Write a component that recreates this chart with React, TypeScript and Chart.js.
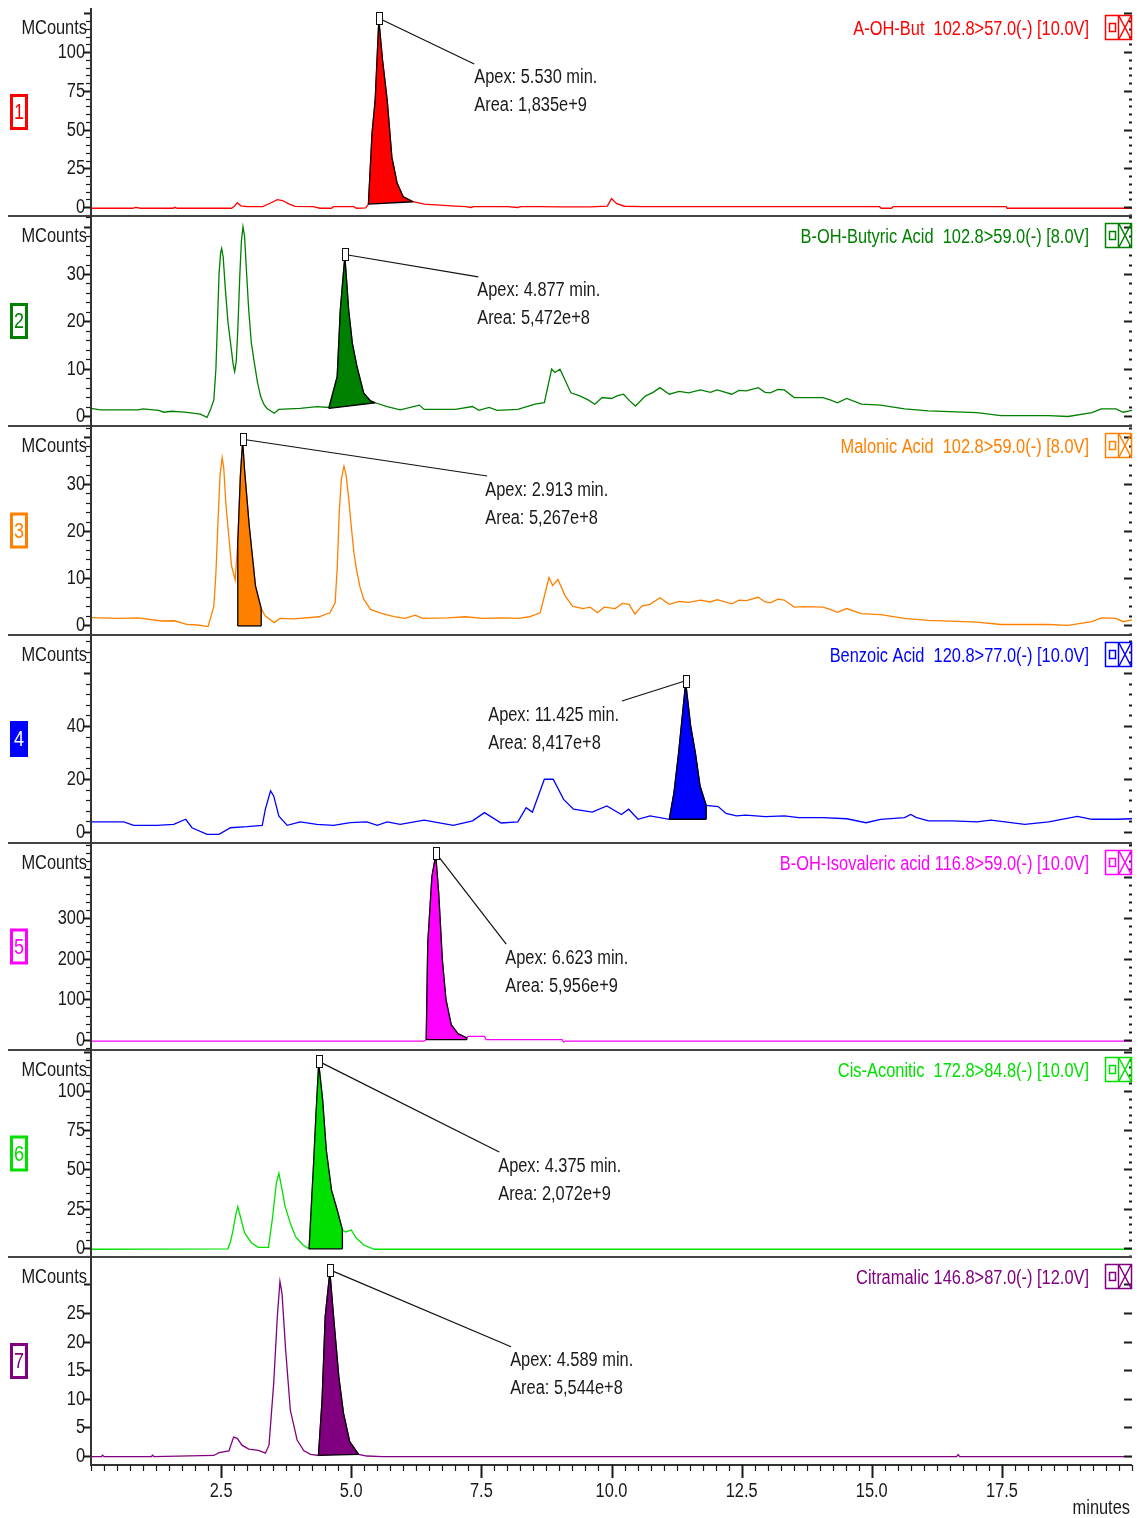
import { useEffect, useRef } from "react";
import { Chart, registerables } from "chart.js";

Chart.register(...registerables);

// ---------------- data (time in minutes, MCounts) ----------------
const p1Trace: [number, number][] = [
  [0, -0.8], [0.8, -0.8], [0.86, -0.2], [0.95, -0.8], [1.58, -0.8], [1.61, -0.2], [1.66, -0.8], [2.7, -0.8],
  [2.76, 0.6], [2.81, 2.8], [2.88, 0.8], [3.0, 0.2], [3.3, 0.3], [3.45, 2.6], [3.58, 4.8], [3.68, 4.2],
  [3.8, 2.0], [3.92, 0.4], [4.27, 0.2], [4.4, -0.8], [4.62, -0.8], [4.66, 0.2], [5.05, 0.2], [5.1, -0.8],
  [5.28, -0.6], [5.33, 1.9], [5.4, 47.7], [5.46, 69], [5.53, 120.5], [5.6, 95], [5.69, 69], [5.78, 32],
  [5.88, 15.5], [6.0, 6.5], [6.19, 3.4], [6.4, 1.8], [6.7, 1.2], [7.0, 0.6], [7.2, 0.3], [7.3, -0.3],
  [7.35, 0.3], [7.7, 0.2], [8.0, 0.2], [8.2, -0.3], [8.25, 0.3], [8.6, 0.2], [9.0, 0.1], [9.6, 0.1],
  [9.92, 0.6], [10.0, 5.4], [10.1, 2.2], [10.25, 0.5], [10.6, 0.3], [11.5, 0.2], [13.0, 0.2], [15.15, 0.2],
  [15.18, -0.8], [15.38, -0.8], [15.41, 0.2], [17.58, 0.2], [17.6, -0.8], [20, -0.8],
];
const p1Peak: [number, number][] = [
  [5.33, 1.9], [5.4, 47.7], [5.46, 69], [5.53, 120.5], [5.6, 95], [5.69, 69], [5.78, 32], [5.88, 15.5],
  [6.0, 6.5], [6.19, 3.4],
];

const p2Trace: [number, number][] = [
  [0, 1.6], [0.18, 1.3], [0.9, 1.3], [1.0, 1.5], [1.3, 1.2], [1.4, 0.8], [1.55, 1.0], [1.8, 0.8],
  [2.1, 0.4], [2.23, -0.3], [2.3, 1.5], [2.36, 3.4], [2.4, 10], [2.43, 20], [2.46, 30], [2.49, 34.5],
  [2.51, 35.4], [2.54, 33.5], [2.58, 27], [2.63, 20], [2.68, 15.5], [2.73, 11], [2.76, 9.4], [2.79, 11.5],
  [2.82, 18], [2.86, 30], [2.89, 37], [2.92, 40.0], [2.95, 38], [2.99, 30], [3.03, 22.4], [3.08, 15.5],
  [3.13, 11.8], [3.2, 7], [3.26, 4.1], [3.32, 2.5], [3.38, 1.6], [3.52, 0.6], [3.61, 1.4], [4.02, 1.6],
  [4.34, 2.0], [4.57, 1.8], [4.73, 8.3], [4.79, 22.4], [4.877, 33.7], [4.95, 22.4], [5.02, 15.4],
  [5.11, 10.4], [5.24, 4.8], [5.37, 3.2], [5.46, 2.8], [5.69, 2.0], [5.94, 1.3], [6.31, 2.3], [6.4, 1.4],
  [7.0, 1.4], [7.33, 2.0], [7.45, 1.2], [7.65, 1.8], [7.8, 1.2], [8.2, 1.4], [8.53, 2.5], [8.71, 2.8],
  [8.85, 9.9], [8.91, 9.2], [9.01, 9.9], [9.22, 4.9], [9.4, 4.2], [9.55, 3.4], [9.68, 2.5], [9.82, 3.9],
  [10.0, 3.7], [10.12, 4.3], [10.23, 4.6], [10.35, 3.2], [10.46, 2.1], [10.65, 4.2], [10.8, 5.0],
  [10.93, 6.0], [11.11, 4.6], [11.3, 5.2], [11.48, 4.9], [11.71, 5.5], [11.9, 5.0], [12.03, 5.5],
  [12.31, 4.6], [12.45, 5.4], [12.59, 5.3], [12.82, 6.0], [12.95, 5.0], [13.05, 4.9], [13.2, 5.6],
  [13.32, 5.5], [13.51, 3.9], [13.69, 3.9], [14.06, 3.9], [14.2, 3.4], [14.34, 2.8], [14.52, 3.7],
  [14.8, 2.5], [15.17, 2.3], [15.63, 1.5], [16.09, 1.1], [17.02, 0.7], [17.48, 0.1], [18.4, 0.1],
  [18.77, -0.1], [19.23, 0.7], [19.41, 1.5], [19.69, 1.5], [19.83, 0.8], [20, 1.2],
];
const p2Peak: [number, number][] = [
  [4.57, 1.6], [4.73, 8.3], [4.79, 22.4], [4.877, 33.7], [4.95, 22.4], [5.02, 15.4], [5.11, 10.4],
  [5.24, 4.8], [5.37, 3.2], [5.46, 2.8],
];

const p3Trace: [number, number][] = [
  [0, 1.55], [0.5, 1.4], [0.9, 1.5], [1.36, 0.85], [1.6, 0.9], [1.84, 0.15], [2.05, 0.0], [2.25, -0.35],
  [2.36, 4.0], [2.4, 11], [2.44, 22], [2.48, 32], [2.52, 35.6], [2.55, 33.5], [2.59, 26], [2.63, 21],
  [2.7, 12.6], [2.77, 9.6], [2.82, 17.5], [2.87, 31.7], [2.913, 39.1], [2.95, 33], [3.04, 21.1],
  [3.16, 8.3], [3.27, 3.5], [3.35, 1.9], [3.52, 0.5], [3.63, 1.4], [3.9, 1.3], [4.38, 1.75], [4.59, 2.6],
  [4.69, 4.7], [4.73, 12], [4.77, 24], [4.81, 31], [4.86, 33.8], [4.9, 32], [4.95, 27], [5.0, 21],
  [5.05, 15.5], [5.1, 11.8], [5.17, 8], [5.24, 5.5], [5.37, 3.3], [5.55, 2.6], [5.82, 1.8], [6.03, 1.4],
  [6.23, 2.1], [6.37, 1.4], [6.85, 1.5], [7.19, 1.75], [7.53, 1.4], [7.88, 1.5], [8.22, 1.4], [8.42, 1.75],
  [8.63, 2.6], [8.8, 10.1], [8.87, 8.4], [8.97, 9.7], [9.11, 6.2], [9.25, 4.0], [9.45, 3.5], [9.59, 3.8],
  [9.73, 2.6], [9.86, 3.8], [10.07, 3.5], [10.21, 4.6], [10.34, 4.4], [10.45, 2.3], [10.58, 4.0],
  [10.74, 4.4], [10.93, 5.8], [11.11, 4.4], [11.3, 5.0], [11.48, 4.8], [11.71, 5.3], [11.9, 4.9],
  [12.03, 5.4], [12.31, 4.5], [12.45, 5.3], [12.59, 5.2], [12.82, 5.9], [12.95, 4.9], [13.05, 4.7],
  [13.2, 5.5], [13.32, 5.3], [13.51, 3.8], [13.69, 3.9], [14.06, 3.8], [14.2, 3.3], [14.34, 2.7],
  [14.52, 3.5], [14.8, 2.4], [15.17, 2.2], [15.63, 1.4], [16.09, 1.0], [17.02, 0.6], [17.48, 0.1],
  [18.4, 0.1], [18.77, -0.1], [19.23, 0.7], [19.41, 1.5], [19.69, 1.4], [19.83, 0.7], [20, 1.1],
];
const p3Peak: [number, number][] = [
  [2.82, -0.2], [2.82, 17.5], [2.87, 31.7], [2.913, 39.1], [2.95, 33], [3.04, 21.1], [3.16, 8.3],
  [3.27, 3.5], [3.27, -0.2],
];

const p4Trace: [number, number][] = [
  [0, 3.8], [0.63, 3.8], [0.82, 2.5], [1.27, 2.5], [1.59, 2.9], [1.82, 4.8], [1.94, 1.6], [2.23, -0.9],
  [2.46, -0.9], [2.68, 1.6], [3.0, 2.0], [3.29, 2.5], [3.35, 8.6], [3.45, 15.5], [3.51, 13.6], [3.61, 6.0],
  [3.77, 2.5], [4.02, 3.8], [4.34, 2.9], [4.66, 2.5], [4.98, 3.5], [5.3, 3.8], [5.5, 2.5], [5.69, 3.8],
  [5.94, 2.9], [6.4, 4.5], [6.96, 2.5], [7.33, 4.2], [7.56, 7.3], [7.88, 3.4], [8.2, 3.8], [8.36, 9.2],
  [8.48, 7.5], [8.71, 19.9], [8.88, 19.9], [9.08, 12.3], [9.27, 8.6], [9.63, 7.5], [9.91, 9.8],
  [10.19, 6.6], [10.33, 8.6], [10.51, 4.8], [10.74, 6.1], [11.11, 4.8], [11.2, 14.8], [11.29, 29.9],
  [11.425, 56.3], [11.52, 40], [11.61, 29.9], [11.7, 17.4], [11.82, 10.0], [12.05, 9.6], [12.2, 7.0],
  [12.4, 6.1], [12.58, 6.4], [12.96, 5.8], [13.32, 6.1], [13.6, 5.4], [14.06, 5.4], [14.52, 5.0],
  [14.89, 3.5], [15.17, 4.8], [15.63, 5.4], [15.75, 6.6], [15.85, 5.5], [16.09, 4.2], [16.55, 4.2],
  [17.02, 3.8], [17.29, 4.5], [17.94, 2.9], [18.4, 3.8], [18.95, 5.9], [19.23, 4.8], [19.69, 4.8], [20, 5.0],
];
const p4Peak: [number, number][] = [
  [11.11, 4.8], [11.2, 14.8], [11.29, 29.9], [11.425, 56.3], [11.52, 40], [11.61, 29.9], [11.7, 17.4],
  [11.82, 10.0], [11.82, 4.8],
];

const p5Trace: [number, number][] = [
  [0, -3], [6.4, -3], [6.44, 0.8], [6.47, 238], [6.55, 402], [6.623, 455], [6.68, 361], [6.75, 197],
  [6.82, 99], [6.92, 37.6], [7.05, 15.6], [7.22, 4.9], [7.24, 9], [7.56, 9], [7.59, 0.8], [9.05, 0.8],
  [9.08, -5], [9.12, -3], [20, -3],
];
const p5Peak: [number, number][] = [
  [6.44, 0.8], [6.47, 238], [6.55, 402], [6.623, 455], [6.68, 361], [6.75, 197], [6.82, 99], [6.92, 37.6],
  [7.05, 15.6], [7.22, 4.9], [7.22, 0.8],
];

const p6Trace: [number, number][] = [
  [0, -0.8], [2.63, -0.5], [2.68, 4], [2.73, 11.5], [2.78, 21], [2.82, 26.3], [2.87, 19.9], [2.95, 9.8],
  [3.08, 3.4], [3.21, 0.4], [3.41, 0.4], [3.49, 19.9], [3.56, 41.2], [3.61, 47.6], [3.66, 39], [3.73, 26.3],
  [3.83, 15.7], [3.93, 7.2], [4.07, 1.9], [4.19, -0.5], [4.28, 56], [4.32, 83.6], [4.375, 117.6],
  [4.45, 94.3], [4.52, 62.4], [4.62, 36.9], [4.73, 24.2], [4.83, 11.5], [4.89, 10.2], [5.0, 11.5],
  [5.1, 6.2], [5.24, 1.9], [5.44, -0.8], [20, -0.8],
];
const p6Peak: [number, number][] = [
  [4.19, -0.5], [4.28, 56], [4.32, 83.6], [4.375, 117.6], [4.45, 94.3], [4.52, 62.4], [4.62, 36.9],
  [4.73, 24.2], [4.83, 11.5], [4.83, -0.5],
];

const p7Trace: [number, number][] = [
  [0, -0.1], [0.2, -0.1], [0.22, 0.15], [0.25, -0.1], [1.16, -0.1], [1.18, 0.15], [1.21, -0.1], [2.36, 0.1],
  [2.46, 0.6], [2.65, 0.9], [2.74, 3.3], [2.81, 3.1], [2.9, 1.9], [3.03, 1.2], [3.22, 1.0], [3.35, 0.5],
  [3.42, 1.9], [3.51, 12.7], [3.58, 24.4], [3.63, 30.5], [3.67, 28.4], [3.74, 18.5], [3.83, 8.0],
  [3.96, 2.8], [4.09, 0.9], [4.22, 0.3], [4.37, 0.1], [4.44, 9.8], [4.5, 24.4], [4.589, 32.2], [4.66, 24.4],
  [4.76, 13.9], [4.85, 7.5], [4.97, 2.5], [5.14, 0.3], [5.3, 0.0], [5.6, -0.1], [16.63, -0.1],
  [16.66, 0.25], [16.69, -0.1], [20, -0.1],
];
const p7Peak: [number, number][] = [
  [4.37, 0.1], [4.44, 9.8], [4.5, 24.4], [4.589, 32.2], [4.66, 24.4], [4.76, 13.9], [4.85, 7.5],
  [4.97, 2.5], [5.14, 0.3],
];

const traces = [p1Trace, p2Trace, p3Trace, p4Trace, p5Trace, p6Trace, p7Trace];
const peaks = [p1Peak, p2Peak, p3Peak, p4Peak, p5Peak, p6Peak, p7Peak];

const panelTitles = [
  "A-OH-But  102.8>57.0(-) [10.0V]",
  "B-OH-Butyric Acid  102.8>59.0(-) [8.0V]",
  "Malonic Acid  102.8>59.0(-) [8.0V]",
  "Benzoic Acid  120.8>77.0(-) [10.0V]",
  "B-OH-Isovaleric acid 116.8>59.0(-) [10.0V]",
  "Cis-Aconitic  172.8>84.8(-) [10.0V]",
  "Citramalic 146.8>87.0(-) [12.0V]",
];
const panelColors = ["#ff0000", "#008000", "#ff8000", "#0000ff", "#ff00ff", "#00e000", "#800080"];
const apexTimes = [5.53, 4.877, 2.913, 11.425, 6.623, 4.375, 4.589];
const apexLabels = ["5.530", "4.877", "2.913", "11.425", "6.623", "4.375", "4.589"];
const peakAreas = ["1,835e+9", "5,472e+8", "5,267e+8", "8,417e+8", "5,956e+9", "2,072e+9", "5,544e+8"];
// annotation text anchor (left/top) and leader-line end, in data units
const noteTimes = [7.363, 7.42, 7.574, 7.631, 7.958, 7.823, 8.053];
const noteCounts = [92.3, 29.4, 31.7, 49.1, 235.9, 61.1, 19.1];
const leaderTimes = [7.363, 7.44, 7.61, 10.2, 7.977, 7.843, 8.07];
const leaderCounts = [92.3, 29.4, 31.7, 49.4, 235.9, 61.1, 19.1];

const yMin = [-5.8, -2.11, -2.13, -4.15, -24.6, -5.73, -1.57];
const yMax = [128.4, 42.25, 42.34, 74.3, 484.4, 126.1, 34.8];
const yMajor = [25, 10, 10, 20, 100, 25, 5];
const yMinor = [5, 2, 2, 4, 20, 5, 5];
const panelWeights = [208, 210, 209, 208, 207, 207, 208];
const selectedPanel = 3;

const xMin = 0;
const xMax = 20;
const xMajorTicks = [2.5, 5.0, 7.5, 10.0, 12.5, 15.0, 17.5];
const xMinorStep = 0.25;
const xAxisTitle = "minutes";
const yAxisTitle = "MCounts";

const FONT = '"Liberation Sans", Arial, sans-serif';
const SQUEEZE = 0.82;

function drawText(
  ctx: CanvasRenderingContext2D,
  text: string,
  x: number,
  y: number,
  align: CanvasTextAlign,
  size: number,
  color: string
) {
  ctx.save();
  ctx.translate(x, y);
  ctx.scale(SQUEEZE, 1);
  ctx.font = `${size}px ${FONT}`;
  ctx.textAlign = align;
  ctx.textBaseline = "middle";
  ctx.fillStyle = color;
  ctx.fillText(text, 0, 0);
  ctx.restore();
}

const toPts = (arr: [number, number][]) => arr.map(([x, y]) => ({ x, y }));

const TEXT = "#1a1a1a";

const decorPlugin = {
  id: "decor",
  afterDraw(chart: any) {
    const ctx: CanvasRenderingContext2D = chart.ctx;
    const a = chart.chartArea;
    const xs = chart.scales.x;
    ctx.save();

    for (let i = 0; i < 7; i++) {
      const ys = chart.scales["y" + (i + 1)];
      const top = ys.top;
      const bottom = ys.bottom;
      const col = panelColors[i];

      // y ticks (left, with labels) and right-side ticks
      ctx.strokeStyle = TEXT;
      const k0 = Math.ceil(ys.min / yMinor[i] - 1e-9);
      const k1 = Math.floor(ys.max / yMinor[i] + 1e-9);
      for (let k = k0; k <= k1; k++) {
        const v = k * yMinor[i];
        const y = Math.round(ys.getPixelForValue(v)) + 0.5;
        const r = v / yMajor[i];
        const major = Math.abs(r - Math.round(r)) < 1e-6;
        ctx.lineWidth = major ? 2 : 1.2;
        ctx.beginPath();
        ctx.moveTo(a.left - (major ? 7 : 5), y);
        ctx.lineTo(a.left, y);
        ctx.stroke();
        ctx.lineWidth = 2;
        ctx.beginPath();
        ctx.moveTo(a.right - (major ? 8 : 3), y);
        ctx.lineTo(a.right, y);
        ctx.stroke();
        if (major && y - top > 39.5) drawText(ctx, String(v), a.left - 6, y, "right", 20, TEXT);
      }

      // MCounts
      drawText(ctx, yAxisTitle, a.left - 4, top + 20, "right", 20, TEXT);

      // panel number box
      const cy = (top + bottom) / 2;
      ctx.lineWidth = 3;
      if (i === selectedPanel) {
        ctx.fillStyle = col;
        ctx.fillRect(10, cy - 18, 18, 36);
      } else {
        ctx.fillStyle = "#ffffff";
        ctx.fillRect(10, cy - 18, 18, 36);
        ctx.strokeStyle = col;
        ctx.strokeRect(11.5, cy - 16.5, 15, 33);
      }
      drawText(ctx, String(i + 1), 19, cy + 1, "center", 22, i === selectedPanel ? "#ffffff" : col);

      // title
      drawText(ctx, panelTitles[i], a.right - 43, top + 21, "right", 20, col);

      // icon box
      ctx.strokeStyle = col;
      ctx.lineWidth = 1.5;
      const bx = a.right - 27;
      const by = top + 7;
      ctx.strokeRect(bx + 0.5, by + 0.5, 26, 24);
      ctx.beginPath();
      ctx.moveTo(bx + 13.5, by);
      ctx.lineTo(bx + 13.5, by + 25);
      ctx.stroke();
      ctx.strokeRect(bx + 4.5, by + 8.5, 6, 8);
      ctx.beginPath();
      ctx.moveTo(bx + 14, by + 1);
      ctx.lineTo(bx + 26, by + 24);
      ctx.moveTo(bx + 26, by + 1);
      ctx.lineTo(bx + 14, by + 24);
      ctx.stroke();

      // separator
      if (i < 6) {
        ctx.strokeStyle = "#444";
        ctx.lineWidth = 2;
        ctx.beginPath();
        ctx.moveTo(8, Math.round(bottom));
        ctx.lineTo(a.right, Math.round(bottom));
        ctx.stroke();
      }

      // apex annotation
      const apexV = Math.max(...peaks[i].map((p) => p[1]));
      const ax = xs.getPixelForValue(apexTimes[i]);
      const ay = ys.getPixelForValue(apexV);
      const lx = xs.getPixelForValue(leaderTimes[i]);
      const ly = ys.getPixelForValue(leaderCounts[i]);
      ctx.strokeStyle = "#111";
      ctx.lineWidth = 1.2;
      ctx.beginPath();
      ctx.moveTo(ax, ay - 2);
      ctx.lineTo(lx, ly);
      ctx.stroke();
      ctx.fillStyle = "#ffffff";
      ctx.fillRect(Math.round(ax) - 3, Math.round(ay) - 8, 6, 12);
      ctx.lineWidth = 1;
      ctx.strokeRect(Math.round(ax) - 2.5, Math.round(ay) - 7.5, 6, 12);

      const tx = xs.getPixelForValue(noteTimes[i]);
      const ty = ys.getPixelForValue(noteCounts[i]);
      drawText(ctx, `Apex: ${apexLabels[i]} min.`, tx, ty + 14, "left", 20, TEXT);
      drawText(ctx, `Area: ${peakAreas[i]}`, tx, ty + 42, "left", 20, TEXT);
    }

    // left axis line
    ctx.strokeStyle = "#333";
    ctx.lineWidth = 2;
    ctx.beginPath();
    ctx.moveTo(a.left, a.top);
    ctx.lineTo(a.left, a.bottom + 1);
    ctx.stroke();

    // x axis
    ctx.beginPath();
    ctx.moveTo(a.left, Math.round(a.bottom));
    ctx.lineTo(a.right, Math.round(a.bottom));
    ctx.stroke();
    const nMinor = Math.round((xMax - xMin) / xMinorStep);
    ctx.strokeStyle = TEXT;
    for (let k = 0; k <= nMinor; k++) {
      const t = xMin + k * xMinorStep;
      const x = Math.round(xs.getPixelForValue(t)) + 0.5;
      const major = xMajorTicks.some((m) => Math.abs(m - t) < 1e-6);
      ctx.lineWidth = major ? 2 : 1.2;
      ctx.beginPath();
      ctx.moveTo(x, a.bottom);
      ctx.lineTo(x, a.bottom + (major ? 13 : 6));
      ctx.stroke();
    }
    for (const m of xMajorTicks) {
      drawText(ctx, m.toFixed(1), xs.getPixelForValue(m), a.bottom + 26, "center", 20, TEXT);
    }
    drawText(ctx, xAxisTitle, a.right - 2, a.bottom + 43, "right", 20, TEXT);

    ctx.restore();
  },
};

export default function App() {
  const ref = useRef<HTMLCanvasElement>(null);

  useEffect(() => {
    if (!ref.current) return;
    const datasets: any[] = [];
    const scales: any = {
      x: { type: "linear", min: xMin, max: xMax, display: false },
    };
    for (let i = 0; i < 7; i++) {
      const id = "y" + (i + 1);
      scales[id] = {
        type: "linear",
        position: "left",
        stack: "panels",
        stackWeight: panelWeights[i],
        weight: 7 - i,
        min: yMin[i],
        max: yMax[i],
        display: false,
      };
      datasets.push({
        data: toPts(traces[i]),
        yAxisID: id,
        borderColor: panelColors[i],
        borderWidth: 1.3,
        pointRadius: 0,
        fill: false,
        tension: 0,
        order: 3,
      });
      datasets.push({
        data: toPts(peaks[i]),
        yAxisID: id,
        borderColor: "#000000",
        backgroundColor: panelColors[i],
        borderWidth: 1.3,
        pointRadius: 0,
        fill: "shape",
        tension: 0,
        order: 2,
      });
      const pk = peaks[i];
      datasets.push({
        data: toPts([pk[0], pk[pk.length - 1]]),
        yAxisID: id,
        borderColor: "#000000",
        borderWidth: 1.3,
        pointRadius: 0,
        fill: false,
        order: 1,
      });
    }

    const chart = new Chart(ref.current, {
      type: "line",
      data: { datasets },
      options: {
        responsive: false,
        animation: false,
        events: [],
        layout: { padding: { left: 91, right: 11, top: 8, bottom: 53 } },
        scales,
        plugins: {
          legend: { display: false },
          tooltip: { enabled: false },
        },
      },
      plugins: [decorPlugin],
    } as any);
    return () => chart.destroy();
  }, []);

  return (
    <div style={{ position: "absolute", left: 0, top: 0, width: 1143, height: 1518, background: "#ffffff" }}>
      <canvas ref={ref} width={1143} height={1518} style={{ display: "block", width: 1143, height: 1518 }} />
    </div>
  );
}
